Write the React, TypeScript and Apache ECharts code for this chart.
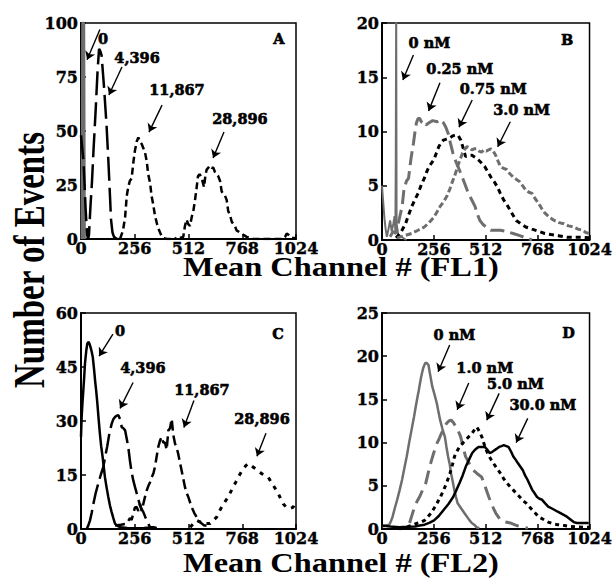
import React, { useEffect, useRef } from "react";
import * as echarts from "echarts";

const GRAY = "#6e6e6e";
const FONT = "DejaVu Serif";

// Panel A (FL1, beads)
const A_0: number[][] = [[5, 0], [8, 100], [13, 100], [16, 0]];
const A_4396: number[][] = [[0, 48], [12, 36], [22, 14], [29, 2], [34, 0], [38, 2], [45, 15], [52, 26], [59, 40], [70, 60], [79, 78], [86, 88], [92, 87], [98, 85], [110, 70], [122, 52], [130, 37], [138, 20], [143, 9], [150, 3], [157, 1], [170, 0], [184, 0]];
const A_11867: number[][] = [[186, 0], [200, 4], [210, 10], [218, 20], [225, 24], [233, 27], [241, 28], [250, 36], [257, 41], [265, 45], [273, 47], [281, 45], [289, 44], [297, 42], [305, 40], [313, 36], [320, 30], [329, 26], [336, 20], [344, 16], [352, 11], [362, 7], [372, 4], [381, 2], [390, 0.5], [410, 0], [430, 0], [445, 0.5], [455, 0]];
const A_28896: number[][] = [[471, 0.5], [487, 1], [495, 6], [503, 9], [510, 7], [519, 6], [527, 10], [535, 13], [543, 18], [551, 24], [557, 29], [565, 30], [571, 29], [578, 27], [586, 24], [592, 29], [598, 32], [606, 33], [614, 34], [622, 33], [630, 33], [638, 31], [646, 30], [654, 29], [662, 27], [670, 22], [678, 21], [686, 20], [694, 18], [701, 13], [710, 11], [718, 8], [725, 7], [733, 6], [741, 4], [757, 3], [773, 2], [789, 1], [805, 0.5], [820, 0], [960, 0], [972, 1], [980, 2.5], [988, 2], [1003, 0.5], [1024, 0.5]];

// Panel B (FL1, antibody)
const B_0: number[][] = [[0, 5], [6, 3.5], [12, 2], [18, 1], [24, 0.3], [32, 1], [40, 1.8], [48, 0.8], [56, 1.5], [62, 2.2], [66, 0.8], [68, 7.5], [70, 22], [72, 1.5], [80, 0.5], [95, 0.3], [120, 0]];
const B_025: number[][] = [[40, 0.3], [55, 0.8], [69, 0.6], [80, 1.5], [92, 2.5], [100, 3.2], [108, 4.6], [120, 5.4], [131, 5.7], [143, 7.5], [155, 8.9], [163, 10], [170, 10.8], [178, 11.2], [186, 11.2], [194, 10.9], [201, 10.8], [209, 10.9], [217, 10.6], [232, 10.8], [250, 11], [272, 10.9], [288, 11.1], [303, 10.8], [315, 10.4], [327, 9.8], [338, 8.9], [350, 8], [365, 7.2], [381, 6.5], [400, 5.6], [420, 4.6], [440, 3.8], [459, 3.1], [470, 2.4], [483, 1.8], [500, 1.4], [514, 1.2], [537, 0.9], [560, 0.9], [584, 0.9], [610, 0.8], [647, 0.6], [680, 0.4], [709, 0.2], [740, 0]];
const B_075: number[][] = [[69, 0.2], [90, 0.6], [116, 1.5], [131, 2.3], [147, 3.1], [162, 3.7], [178, 4.3], [194, 5.1], [209, 5.7], [221, 6.3], [233, 6.8], [245, 7.1], [256, 7.4], [268, 8], [280, 8.6], [292, 9], [303, 9.2], [318, 9.3], [334, 9.4], [350, 9.6], [366, 9.7], [377, 9.6], [389, 9.2], [400, 8.5], [412, 7.7], [428, 7.8], [444, 7.8], [460, 7.6], [475, 7.4], [491, 7.1], [506, 6.8], [522, 6.3], [537, 5.8], [553, 5.4], [569, 4.9], [584, 4.3], [600, 3.7], [615, 3.3], [631, 2.8], [646, 2.3], [662, 1.8], [685, 1.5], [709, 1.2], [740, 1], [772, 0.8], [803, 0.6], [834, 0.5], [870, 0.4], [912, 0.25], [950, 0.25], [990, 0.25], [1024, 0.2]];
const B_30: number[][] = [[75, 0.2], [110, 0.4], [146, 0.6], [178, 0.9], [209, 1.2], [232, 1.6], [256, 2.1], [272, 2.6], [287, 3.1], [303, 3.5], [319, 4.0], [335, 4.7], [350, 5.5], [362, 6.1], [373, 6.8], [385, 7.4], [397, 8.0], [409, 8.4], [420, 8.6], [432, 8.5], [444, 8.3], [455, 8.4], [467, 8.4], [479, 8.2], [491, 8.1], [503, 8.3], [514, 8.2], [526, 8.3], [537, 8.4], [549, 8.2], [561, 7.8], [572, 7.3], [584, 6.8], [600, 6.6], [615, 6.5], [631, 6.1], [647, 5.8], [662, 5.6], [678, 5.4], [694, 5.0], [709, 4.6], [725, 4.4], [740, 4.3], [756, 3.8], [772, 3.4], [788, 2.9], [803, 2.5], [826, 2.1], [850, 1.8], [874, 1.6], [897, 1.5], [920, 1.3], [944, 1.2], [967, 1.0], [990, 0.9], [1005, 0.7], [1020, 0.6]];

// Panel C (FL2, beads)
const C_0: number[][] = [[0, 25.6], [3, 31], [7, 35], [11, 38.5], [15, 42], [19, 46], [25, 49.5], [30, 51.5], [37, 52], [43, 51], [50, 49.5], [56, 47.8], [62, 44.5], [67, 41.3], [73, 38], [78, 34.8], [84, 30.5], [90, 26.5], [96, 23], [103, 20], [109, 17], [114, 14.4], [122, 11.5], [130, 8.9], [138, 6.5], [146, 4.7], [154, 3], [162, 1.5], [175, 0.8], [190, 0.5], [220, 0.3], [260, 0.2], [300, 0.3], [330, 0.4], [360, 0.2]];
const C_4396: number[][] = [[27, 0], [35, 1], [43, 2.4], [51, 4.5], [59, 7], [70, 10], [82, 12.6], [94, 15], [106, 17.2], [115, 20], [125, 23], [135, 26.5], [146, 29.2], [154, 30.5], [162, 31.1], [170, 31.5], [178, 31.6], [186, 30.5], [194, 28.3], [202, 28], [210, 27.4], [218, 25], [225, 22.8], [233, 19], [241, 15.8], [249, 13.5], [257, 11.7], [265, 10], [273, 8.2], [281, 6.6], [289, 5.5], [297, 4.7], [305, 3.5], [313, 2.4], [321, 1.4], [329, 0.5], [345, 0.5], [360, 0.3]];
const C_11867: number[][] = [[162, 1], [190, 1.2], [217, 1.5], [233, 3], [241, 2.5], [249, 4.3], [257, 6], [265, 6.1], [273, 5], [281, 7], [289, 5], [297, 7], [305, 9], [313, 10.7], [321, 12], [329, 13], [337, 14.4], [345, 15.5], [352, 17.2], [360, 20], [368, 22.8], [376, 24.5], [384, 25.6], [392, 24], [400, 24], [408, 22], [416, 27.4], [424, 28], [432, 30.6], [440, 26], [448, 23.7], [456, 22.5], [463, 20.9], [471, 18.5], [479, 16.3], [487, 14], [495, 11.7], [503, 10], [511, 8.9], [519, 7.5], [527, 6.1], [539, 4.5], [551, 3.3], [563, 2.2], [575, 1.5], [587, 1], [598, 1]];
const C_28896: number[][] = [[520, 0.5], [535, 1.5], [551, 2.4], [566, 2], [582, 1.5], [598, 1.5], [614, 1.5], [630, 2.4], [646, 3.3], [658, 4.8], [670, 6.1], [685, 7.5], [701, 8.9], [713, 10.3], [725, 11.7], [737, 13], [749, 14.4], [761, 15.6], [773, 16.8], [785, 17.6], [797, 18.2], [813, 17.5], [829, 16.8], [845, 16.1], [860, 15.4], [876, 14.9], [892, 14.4], [904, 13.2], [916, 12.1], [928, 11], [940, 9.8], [951, 8.4], [963, 7], [975, 6.2], [987, 5.7], [999, 5.8], [1011, 6.1], [1024, 8]];

// Panel D (FL2, antibody)
const D_0: number[][] = [[0, 0.3], [20, 0.4], [36, 0.5], [44, 0.9], [52, 1.4], [63, 2.4], [75, 3.4], [87, 4.5], [99, 5.7], [110, 7], [122, 8.4], [134, 10], [146, 11.5], [158, 13], [169, 14.5], [181, 16], [193, 17.6], [203, 18.6], [213, 19.2], [221, 19.2], [229, 19], [238, 17.8], [248, 16.5], [260, 15.5], [271, 14.5], [279, 13.5], [287, 12.6], [298, 11.6], [310, 10.7], [318, 9.5], [326, 8.4], [335, 7.4], [341, 6.4], [349, 5.5], [357, 4.5], [365, 3.7], [373, 3.0], [384, 2.6], [396, 2.2], [408, 1.8], [420, 1.4], [432, 1], [443, 0.7], [455, 0.5], [467, 0.2], [480, 0.1]];
const D_10: number[][] = [[136, 0.7], [148, 1.6], [161, 2.6], [173, 3.2], [185, 3.7], [200, 4.5], [216, 5.3], [228, 6.5], [240, 7.6], [255, 8.8], [271, 9.9], [283, 10.5], [294, 11.1], [306, 11.7], [318, 12.2], [330, 12.5], [341, 12.6], [353, 12.3], [365, 11.8], [377, 11.3], [388, 10.7], [400, 9.5], [412, 8.4], [430, 7.6], [451, 6.8], [470, 6.4], [492, 6.0], [503, 5.3], [515, 4.5], [527, 3.7], [539, 3.0], [550, 2.4], [562, 1.8], [574, 1.4], [586, 1.0], [610, 0.8], [633, 0.7], [665, 0.4], [695, 0.2], [720, 0.1]];
const D_50: number[][] = [[85, 0], [130, 0.3], [178, 0.7], [194, 0.8], [210, 1.0], [226, 1.4], [241, 1.8], [257, 2.4], [272, 3.0], [288, 3.7], [304, 4.5], [320, 5.4], [335, 6.4], [347, 7.4], [358, 8.4], [370, 9], [382, 9.5], [397, 9.9], [413, 10.3], [429, 10.7], [445, 11.1], [457, 11.5], [468, 11.8], [480, 11.3], [492, 10.7], [503, 9.9], [515, 9.1], [527, 8.5], [539, 8.0], [550, 7.6], [562, 7.2], [574, 6.8], [586, 6.4], [601, 5.8], [617, 5.3], [632, 4.9], [648, 4.5], [664, 4.1], [680, 3.7], [695, 3.3], [711, 3.0], [726, 2.6], [742, 2.2], [758, 1.8], [773, 1.4], [797, 1.1], [820, 0.8], [844, 0.6], [867, 0.5], [900, 0.4], [930, 0.3], [960, 0.25], [993, 0.2], [1024, 0.2]];
const D_300: number[][] = [[0, 0.4], [40, 0.3], [85, 0.2], [125, 0.25], [163, 0.3], [186, 0.4], [210, 0.5], [233, 0.7], [257, 1.0], [280, 1.5], [304, 2.2], [328, 2.9], [351, 3.7], [367, 4.5], [382, 5.3], [398, 6.2], [413, 7.2], [429, 8.0], [445, 8.8], [460, 9.2], [476, 9.5], [492, 9.5], [507, 9.5], [519, 9.2], [531, 8.8], [543, 8.9], [554, 9.1], [566, 9.3], [578, 9.5], [590, 9.6], [601, 9.7], [613, 9.6], [624, 9.5], [636, 9.0], [648, 8.4], [660, 8.0], [671, 7.6], [683, 7.2], [695, 6.8], [706, 6.2], [718, 5.7], [730, 5.1], [742, 4.5], [754, 4.1], [765, 3.7], [777, 3.5], [789, 3.4], [804, 3.0], [820, 2.6], [836, 2.4], [852, 2.2], [867, 2.0], [883, 1.8], [899, 1.6], [914, 1.4], [930, 1.1], [946, 0.8], [962, 0.7], [977, 0.7], [1000, 0.7], [1020, 0.7]];

// Axis ranges
const X_MAX = 1024;
const X_STEP = 256;
const Y_MAX = [100, 20, 60, 25];
const Y_STEP = [25, 5, 15, 5];

// Annotation labels [text, x, y] and arrows [x1, y1, x2, y2] in data space
const A_LABELS: [string, number, number][] = [["0", 105, 93], ["4,396", 267, 84], ["11,867", 457, 69.4], ["28,896", 757, 56], ["A", 943, 92.6]];
const A_ARROWS: number[][] = [[90, 97, 29, 83], [195, 79.6, 133, 66.7], [386, 62, 324, 49.5], [681, 49.5, 629, 37.5]];
const B_LABELS: [string, number, number][] = [["0 nM", 234, 18.2], ["0.25 nM", 384, 15.85], ["0.75 nM", 549, 14.0], ["3.0 nM", 689, 12.0], ["B", 914, 18.5]];
const B_ARROWS: number[][] = [[155, 17.05, 103, 14.75], [286, 14.5, 230, 11.9], [445, 12.9, 380, 10.4], [633, 10.9, 571, 8.6]];
const C_LABELS: [string, number, number][] = [["0", 186, 55.2], ["4,396", 295, 45], ["11,867", 576, 38.8], ["28,896", 862, 30.7], ["C", 938, 54.4]];
const C_ARROWS: number[][] = [[152, 54.1, 86, 48.0], [248, 40.7, 186, 33.5], [538, 35.7, 490, 28.2], [881, 26.6, 838, 20.2]];
const D_LABELS: [string, number, number][] = [["0 nM", 357, 22.5], ["1.0 nM", 507, 18.7], ["5.0 nM", 658, 16.8], ["30.0 nM", 794, 14.4], ["D", 920, 22.7]];
const D_ARROWS: number[][] = [[334, 21.3, 277, 18.2], [428, 16.9, 371, 13.8], [578, 15.7, 517, 12.6], [719, 12.8, 662, 10.0]];

const GRIDS = [
  { left: 81, top: 23, width: 215, height: 216 },
  { left: 382, top: 23, width: 218, height: 217 },
  { left: 81, top: 313, width: 215, height: 216 },
  { left: 382, top: 313, width: 218, height: 216 },
];

function line(data: number[][], g: number, color: string, width: number, type: any) {
  return {
    type: "line",
    xAxisIndex: g,
    yAxisIndex: g,
    data,
    symbol: "none",
    showSymbol: false,
    silent: true,
    clip: true,
    lineStyle: { color, width, type, cap: "butt" },
  };
}

function annot(g: number, labels: [string, number, number][], arrows: number[][]) {
  return {
    type: "scatter",
    xAxisIndex: g,
    yAxisIndex: g,
    symbolSize: 0,
    itemStyle: { color: "#000", opacity: 1 },
    silent: true,
    z: 5,
    data: labels.map((l) => ({ name: l[0], value: [l[1], l[2]] })),
    label: {
      show: true,
      position: "inside",
      formatter: "{b}",
      color: "#000",
      opacity: 1,
      textBorderWidth: 0.6,
      textBorderColor: "#000",
      fontFamily: FONT,
      fontWeight: "bold",
      fontSize: 14.5,
    },
    markLine: {
      silent: true,
      animation: false,
      symbol: ["none", "arrow"],
      symbolSize: 8,
      label: { show: false },
      lineStyle: { color: "#000", width: 1.4, type: "solid", opacity: 1 },
      data: arrows.map((a) => [{ coord: [a[0], a[1]] }, { coord: [a[2], a[3]] }]),
    },
  };
}

const titleStyle = (text: string) => ({
  text,
  fontFamily: "Liberation Serif",
  fontWeight: "bold",
  fontSize: 27,
  fill: "#000",
  align: "center",
  verticalAlign: "middle",
});

export default function App() {
  const ref = useRef<HTMLDivElement>(null);
  useEffect(() => {
    if (!ref.current) return;
    const chart = echarts.init(ref.current, null, { renderer: "svg" });
    const labelStyle = {
      color: "#000",
      fontFamily: FONT,
      fontWeight: "bold",
      fontSize: 16,
      textBorderColor: "#000",
      textBorderWidth: 0.4,
    };
    const fmt = (v: number) => String(v);
    const option: any = {
      animation: false,
      backgroundColor: "#fff",
      grid: GRIDS.map((g) => ({ ...g, show: true, borderColor: "#000", borderWidth: 1.5, containLabel: false })),
      xAxis: GRIDS.map((_, i) => ({
        gridIndex: i,
        type: "value",
        min: 0,
        max: X_MAX,
        interval: X_STEP,
        axisLine: { show: true, onZero: false, lineStyle: { color: "#000", width: 2 } },
        axisTick: { show: true, inside: true, length: 5, lineStyle: { color: "#000", width: 1.5 } },
        axisLabel: { ...labelStyle, margin: 1, formatter: fmt, showMaxLabel: true, showMinLabel: true },
        splitLine: { show: false },
      })),
      yAxis: GRIDS.map((_, i) => ({
        gridIndex: i,
        type: "value",
        min: 0,
        max: Y_MAX[i],
        interval: Y_STEP[i],
        axisLine: { show: true, onZero: false, lineStyle: { color: "#000", width: 2 } },
        axisTick: { show: true, inside: true, length: 5, lineStyle: { color: "#000", width: 1.5 } },
        axisLabel: { ...labelStyle, margin: 3, formatter: fmt },
        splitLine: { show: false },
      })),
      series: [
        line(A_0, 0, GRAY, 3, "solid"),
        line(A_4396, 0, "#000", 2.5, [24, 7]),
        line(A_11867, 0, "#000", 2.5, [7, 4]),
        line(A_28896, 0, "#000", 2.5, [7, 4]),
        annot(0, A_LABELS, A_ARROWS),
        line(B_0, 1, GRAY, 2, "solid"),
        line(B_025, 1, GRAY, 3, [14, 6]),
        line(B_075, 1, "#000", 3, [5, 4]),
        line(B_30, 1, GRAY, 3, [6, 3]),
        annot(1, B_LABELS, B_ARROWS),
        line(C_0, 2, "#000", 2.5, "solid"),
        line(C_4396, 2, "#000", 2.5, [20, 6]),
        line(C_11867, 2, "#000", 2.5, [10, 5]),
        line(C_28896, 2, "#000", 3, [4, 6]),
        annot(2, C_LABELS, C_ARROWS),
        line(D_0, 3, GRAY, 2.5, "solid"),
        line(D_10, 3, GRAY, 3, [14, 7]),
        line(D_50, 3, "#000", 3, [4, 4]),
        line(D_300, 3, "#000", 2.5, "solid"),
        annot(3, D_LABELS, D_ARROWS),
      ],
      graphic: [
        {
          type: "text",
          x: 29,
          y: 260,
          rotation: Math.PI / 2,
          scaleY: 1.35,
          style: {
            text: "Number of Events",
            fontFamily: "Liberation Serif",
            fontWeight: "bold",
            fontSize: 33,
            fill: "#000",
            align: "center",
            verticalAlign: "middle",
          },
        },
        { type: "text", x: 341, y: 266, scaleX: 1.2, style: titleStyle("Mean Channel # (FL1)") },
        { type: "text", x: 341, y: 562, scaleX: 1.2, style: titleStyle("Mean Channel # (FL2)") },
      ],
    };
    chart.setOption(option);
    return () => chart.dispose();
  }, []);
  return <div ref={ref} style={{ position: "absolute", left: 0, top: 0, width: 615, height: 580 }} />;
}
